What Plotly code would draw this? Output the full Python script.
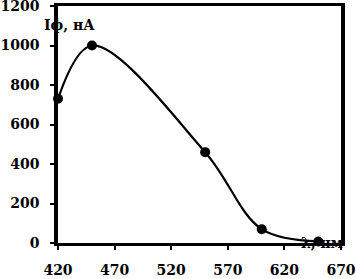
import plotly.graph_objects as go

wavelength = [420, 450, 550, 600, 650]
current = [730, 1000, 460, 70, 8]
x_ticks = [420, 470, 520, 570, 620, 670]
y_ticks = [0, 200, 400, 600, 800, 1000, 1200]

font = dict(family="DejaVu Serif", size=14, color="black")

fig = go.Figure()
fig.add_trace(go.Scatter(
    x=wavelength, y=current, mode="lines+markers",
    line=dict(color="black", width=2.2, shape="spline", smoothing=1.0),
    marker=dict(color="black", size=10),
    showlegend=False, cliponaxis=False,
))

fig.update_layout(
    width=356, height=279,
    margin=dict(l=58, r=15, t=6, b=36, autoexpand=False),
    paper_bgcolor="white", plot_bgcolor="white",
    font=font,
    xaxis=dict(range=[420, 670], tickvals=x_ticks, ticktext=[f"<b>{v}</b>" for v in x_ticks],
               showgrid=False, zeroline=False, showline=True, linecolor="black", linewidth=3,
               mirror=True, ticks="outside", ticklen=4, tickwidth=2, tickcolor="black",
               ticklabelstandoff=8, automargin=False, ticklabeloverflow="allow"),
    yaxis=dict(range=[0, 1200], tickvals=y_ticks, ticktext=[f"<b>{v}</b>" for v in y_ticks],
               showgrid=False, zeroline=False, showline=True, linecolor="black", linewidth=3.5,
               mirror=True, ticks="outside", ticklen=4, tickwidth=2, tickcolor="black",
               ticklabelstandoff=8, automargin=False, ticklabeloverflow="allow"),
    annotations=[
        dict(text="<b>Iф, нА</b>", xref="paper", yref="paper", x=0.0, y=0.92,
             xanchor="left", yanchor="middle", showarrow=False, font=font, xshift=-16),
        dict(text="<b>λ, нм</b>", xref="paper", yref="paper", x=1.0, y=0.0,
             xanchor="right", yanchor="middle", showarrow=False, font=font, xshift=4),
    ],
)

fig.write_html("out.html", config={"displayModeBar": False},
               post_script="document.body.style.margin='0';")
